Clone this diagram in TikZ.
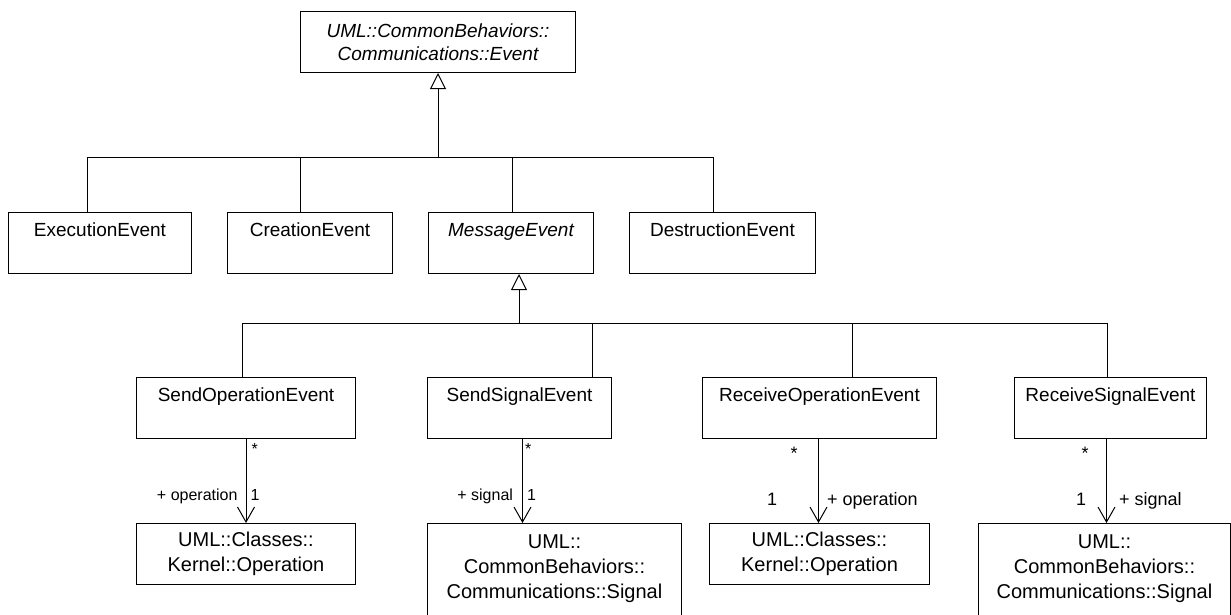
\documentclass[tikz,border=0pt]{standalone}
\usepackage{fontspec}
\setmainfont{Liberation Sans}
\usetikzlibrary{arrows.meta}

\begin{document}
\begin{tikzpicture}[x=1pt,y=-1pt,
cls/.style={draw,line width=1pt,anchor=north west,inner xsep=2pt,inner ysep=0pt,minimum height=61pt,text height=24pt,text depth=37pt,font=\fontsize{19}{23}\selectfont},
refcls/.style={draw,line width=1pt,anchor=north west,align=center,inner ysep=0pt,font=\fontsize{20}{25}\selectfont},
sigcls/.style={refcls,text height=75pt,text depth=18pt},
topcls/.style={draw,line width=1pt,anchor=north west,align=center,inner ysep=0pt,minimum height=61pt,font=\itshape\fontsize{19}{23}\selectfont},
gen/.style={line width=1pt,-{Triangle[open,length=16pt,width=16pt]}},
assoc/.style={line width=1pt,-{Straight Barb[length=15pt,width=17pt]}},
line/.style={line width=1pt},
lblsm/.style={font=\fontsize{16}{16}\selectfont,inner sep=0pt},
lbl/.style={font=\fontsize{18}{18}\selectfont,inner sep=0pt}
]
\useasboundingbox (0,0) rectangle (1231,614);

% root
\node[topcls,minimum width=275pt] (event) at (300,11) {UML::CommonBehaviors::\\Communications::Event};

% first level
\node[cls,minimum width=183pt] (exec) at (8,212) {ExecutionEvent};
\node[cls,minimum width=165pt] (creat) at (227,212) {CreationEvent};
\node[cls,minimum width=165pt,font=\itshape\fontsize{19}{23}\selectfont] (msg) at (428,212) {MessageEvent};
\node[cls,minimum width=186pt] (destr) at (629,212) {DestructionEvent};

% message events
\node[cls,minimum width=219pt] (sendop) at (136,377) {SendOperationEvent};
\node[cls,minimum width=184pt] (sendsig) at (427,377) {SendSignalEvent};
\node[cls,minimum width=234pt] (recop) at (702,377) {ReceiveOperationEvent};
\node[cls,minimum width=192pt] (recsig) at (1014,377) {ReceiveSignalEvent};

% referenced classes
\node[refcls,minimum width=219pt,minimum height=61pt] (op1) at (136,523) {UML::Classes::\\Kernel::Operation};
\node[sigcls,minimum width=254pt] (sig1) at (427,523) {UML::\\CommonBehaviors::\\Communications::Signal};
\node[refcls,minimum width=220pt,minimum height=61pt] (op2) at (709,523) {UML::Classes::\\Kernel::Operation};
\node[sigcls,minimum width=252pt] (sig2) at (978,523) {UML::\\CommonBehaviors::\\Communications::Signal};

% generalization tree
\coordinate (bus1) at (438,157);
\coordinate (bus2) at (519,323);
\draw[gen] (bus1) -- (event.south);
\draw[line] ([xshift=-12.5pt]exec.north) |- (bus1);
\draw[line] ([xshift=-9.5pt]creat.north) |- (bus1);
\draw[line] ([xshift=1.5pt]msg.north) |- (bus1);
\draw[line] ([xshift=-9pt]destr.north) |- (bus1);
\draw[gen] (bus2) -- (bus2 |- msg.south);
\draw[line] ([xshift=-3.5pt]sendop.north) |- (bus2);
\draw[line] ([xshift=73pt]sendsig.north) |- (bus2);
\draw[line] ([xshift=33pt]recop.north) |- (bus2);
\draw[line] ([xshift=-3pt]recsig.north) |- (bus2);

% associations
\coordinate (so) at (sendop.south);
\coordinate (ss) at ([xshift=3pt]sendsig.south);
\coordinate (ro) at ([xshift=-1pt]recop.south);
\coordinate (rs) at ([xshift=-4pt]recsig.south);
\draw[assoc] (so) -- node[lblsm,pos=0.19,anchor=base west,xshift=5pt]{*}
  node[lblsm,pos=0.73,anchor=base west,xshift=4pt]{1}
  node[lblsm,pos=0.73,anchor=base east,xshift=-8pt]{+ operation} (so |- op1.north);
\draw[assoc] (ss) -- node[lblsm,pos=0.19,anchor=base west,xshift=2pt]{*}
  node[lblsm,pos=0.73,anchor=base west,xshift=4pt]{1}
  node[lblsm,pos=0.73,anchor=base east,xshift=-9pt]{+ signal} (ss |- sig1.north);
\draw[assoc] (ro) -- node[lbl,pos=0.24,anchor=base east,xshift=-20.5pt]{*}
  node[lbl,pos=0.79,anchor=base east,xshift=-41pt]{1}
  node[lbl,pos=0.79,anchor=base west,xshift=8pt]{+ operation} (ro |- op2.north);
\draw[assoc] (rs) -- node[lbl,pos=0.24,anchor=base east,xshift=-17.5pt]{*}
  node[lbl,pos=0.79,anchor=base east,xshift=-20pt]{1}
  node[lbl,pos=0.79,anchor=base west,xshift=12pt]{+ signal} (rs |- sig2.north);
\end{tikzpicture}
\end{document}
